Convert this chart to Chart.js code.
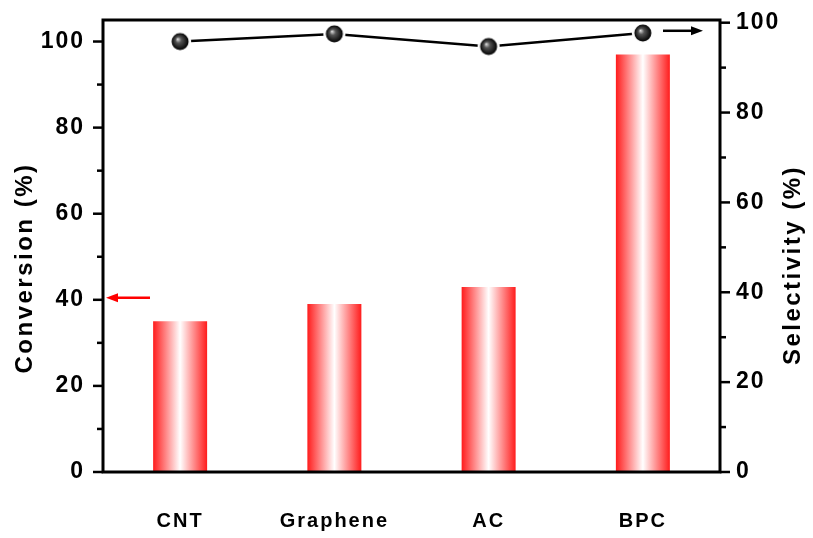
<!DOCTYPE html>
<html>
<head>
<meta charset="utf-8">
<script src="https://cdn.jsdelivr.net/npm/chart.js@4/dist/chart.umd.min.js"></script>
<style>
  body { margin: 0; background: #fff; }
  #wrap { width: 813px; height: 538px; }
</style>
</head>
<body>
<div id="wrap"><canvas id="myChart" width="813" height="538"></canvas></div>
<script>
const categorias = ["CNT", "Graphene", "AC", "BPC"]
const conversion = [35, 39, 43, 97]
const selectividad = [95.8, 97.5, 94.7, 97.7]
const ticksIzq = [0, 10, 20, 30, 40, 50, 60, 70, 80, 90, 100]
const ticksDer = [0, 10, 20, 30, 40, 50, 60, 70, 80, 90, 100]

const fuente = "'Liberation Sans', Arial, sans-serif"
const rojo = "rgb(255, 28, 28)"
const anchoBarra = 0.35

// esfera negra con brillo para los puntos
function hacerEsfera() {
    const c = document.createElement("canvas")
    c.width = 24
    c.height = 24
    const g = c.getContext("2d")
    g.fillStyle = "#fff"
    g.beginPath()
    g.arc(12, 12, 11, 0, Math.PI * 2)
    g.fill()
    const rg = g.createRadialGradient(9.5, 9.5, 0, 12, 12, 8.5)
    rg.addColorStop(0, "#e6e6e6")
    rg.addColorStop(0.35, "#555")
    rg.addColorStop(1, "#000")
    g.fillStyle = rg
    g.beginPath()
    g.arc(12, 12, 8.5, 0, Math.PI * 2)
    g.fill()
    return c
}
const esfera = hacerEsfera()

function degradado(context) {
    const chart = context.chart
    const x = chart.scales.x
    if (!x || !chart.chartArea) return rojo
    const cx = x.getPixelForValue(context.dataIndex)
    const w = (x.width / categorias.length) * anchoBarra
    const g = chart.ctx.createLinearGradient(cx - w / 2, 0, cx + w / 2, 0)
    g.addColorStop(0, rojo)
    g.addColorStop(0.5, "#ffffff")
    g.addColorStop(1, rojo)
    return g
}

function flecha(ctx, x1, y, x2, color) {
    const dir = Math.sign(x2 - x1)
    ctx.save()
    ctx.strokeStyle = color
    ctx.fillStyle = color
    ctx.lineWidth = 2.5
    ctx.beginPath()
    ctx.moveTo(x1, y)
    ctx.lineTo(x2 - dir * 8, y)
    ctx.stroke()
    ctx.beginPath()
    ctx.moveTo(x2, y)
    ctx.lineTo(x2 - dir * 12, y - 4.5)
    ctx.lineTo(x2 - dir * 12, y + 4.5)
    ctx.closePath()
    ctx.fill()
    ctx.restore()
}

// letras algo mas separadas en todos los textos
const espaciado = {
    id: "espaciado",
    beforeDraw(chart) { chart.ctx.letterSpacing = "2px" }
}

// marco, marcas de los ejes, titulos y flechas
const marco = {
    id: "marco",
    afterDraw(chart) {
        const ctx = chart.ctx
        const a = chart.chartArea
        const yL = chart.scales.y
        const yR = chart.scales.y1
        ctx.save()
        ctx.strokeStyle = "#000"
        ctx.lineWidth = 3
        ctx.strokeRect(a.left, a.top, a.right - a.left, a.bottom - a.top)
        ctx.lineWidth = 2.5
        ticksIzq.forEach(v => {
            const py = yL.getPixelForValue(v)
            const len = v % 20 === 0 ? 10 : 6
            ctx.beginPath()
            ctx.moveTo(a.left - len, py)
            ctx.lineTo(a.left, py)
            ctx.stroke()
        })
        ticksDer.forEach(v => {
            const py = yR.getPixelForValue(v)
            const len = v % 20 === 0 ? 10 : 6
            ctx.beginPath()
            ctx.moveTo(a.right, py)
            ctx.lineTo(a.right + len, py)
            ctx.stroke()
        })

        ctx.fillStyle = "#000"
        ctx.font = "bold 24px " + fuente
        ctx.letterSpacing = "2.5px"
        ctx.textAlign = "center"
        ctx.textBaseline = "middle"
        ctx.save()
        ctx.translate(25, 268)
        ctx.rotate(-Math.PI / 2)
        ctx.fillText("Conversion (%)", 0, 0)
        ctx.restore()
        ctx.save()
        ctx.translate(793, 265)
        ctx.rotate(-Math.PI / 2)
        ctx.fillText("Selectivity (%)", 0, 0)
        ctx.restore()

        flecha(ctx, a.left + 47, yL.getPixelForValue(40.5), a.left + 3, "rgb(255, 0, 0)")
        flecha(ctx, a.right - 57, yR.getPixelForValue(98.2), a.right - 17, "#000")
        ctx.restore()
    }
}

const data = {
    labels: categorias,
    datasets: [
        {
            type: "line",
            label: "Selectivity",
            data: selectividad,
            yAxisID: "y1",
            borderColor: "#000",
            borderWidth: 2.5,
            pointStyle: esfera,
            pointRadius: 9,
            tension: 0,
            order: 0
        },
        {
            type: "bar",
            label: "Conversion",
            data: conversion,
            yAxisID: "y",
            backgroundColor: degradado,
            borderWidth: 0,
            barPercentage: anchoBarra,
            categoryPercentage: 1,
            order: 1
        }
    ]
}

const config = {
    data,
    options: {
        responsive: false,
        animation: false,
        layout: { padding: { top: 20, left: 0, right: 0, bottom: 0 } },
        plugins: { legend: { display: false }, tooltip: { enabled: false } },
        scales: {
            x: {
                offset: true,
                grid: { display: false, drawTicks: false },
                border: { display: false },
                ticks: { color: "#000", font: { family: fuente, size: 20, weight: "bold" }, padding: 37 },
                afterFit(s) { s.height = 66; s.paddingLeft = 0; s.paddingRight = 0 }
            },
            y: {
                position: "left",
                min: 0,
                max: 105,
                afterBuildTicks(s) { s.ticks = ticksIzq.map(v => ({ value: v })) },
                grid: { display: false, drawTicks: false },
                border: { display: false },
                ticks: {
                    color: "#000",
                    font: { family: fuente, size: 23, weight: "bold" },
                    padding: 18,
                    callback: v => v % 20 === 0 ? v : ""
                },
                afterFit(s) { s.width = 103; s.paddingTop = 0; s.paddingBottom = 0 }
            },
            y1: {
                position: "right",
                min: 0,
                max: 100.6,
                afterBuildTicks(s) { s.ticks = ticksDer.map(v => ({ value: v })) },
                grid: { display: false, drawTicks: false },
                border: { display: false },
                ticks: {
                    color: "#000",
                    font: { family: fuente, size: 23, weight: "bold" },
                    padding: 16,
                    callback: v => v % 20 === 0 ? v : ""
                },
                afterFit(s) { s.width = 93; s.paddingTop = 0; s.paddingBottom = 0 }
            }
        }
    },
    plugins: [espaciado, marco]
}

var myChart = new Chart(document.getElementById("myChart").getContext("2d"), config)
</script>
</body>
</html>
